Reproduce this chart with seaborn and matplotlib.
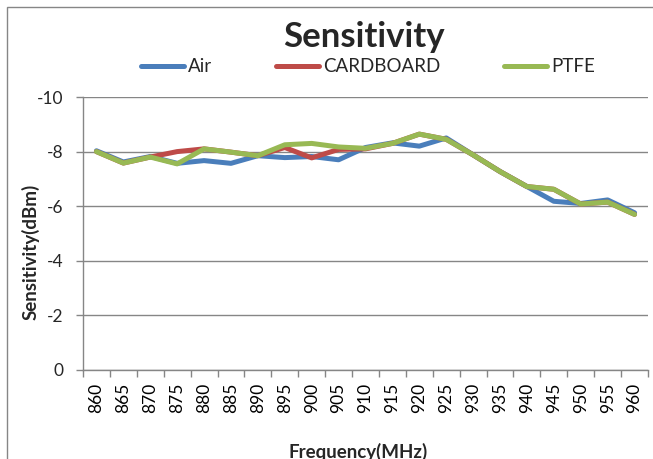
import matplotlib
matplotlib.use("Agg")
import matplotlib.pyplot as plt
from matplotlib.patches import Rectangle
from matplotlib.ticker import FixedLocator
import seaborn as sns
import pandas as pd

# ---- data ----
frequencies = ["860", "865", "870", "875", "880", "885", "890", "895", "900", "905",
               "910", "915", "920", "925", "930", "935", "940", "945", "950", "955", "960"]
air = [-8.03, -7.62, -7.82, -7.57, -7.67, -7.57, -7.85, -7.78, -7.82, -7.70,
       -8.15, -8.32, -8.20, -8.50, -7.88, -7.27, -6.72, -6.18, -6.10, -6.23, -5.76]
cardboard = [-8.00, -7.58, -7.80, -8.00, -8.10, -7.98, -7.85, -8.15, -7.77, -8.08,
             -8.10, -8.30, -8.64, -8.45, -7.88, -7.27, -6.72, -6.62, -6.08, -6.15, -5.70]
ptfe = [-8.00, -7.58, -7.80, -7.55, -8.10, -7.98, -7.85, -8.25, -8.30, -8.17,
        -8.12, -8.30, -8.64, -8.45, -7.88, -7.27, -6.72, -6.62, -6.08, -6.15, -5.70]
y_ticks = [0, -2, -4, -6, -8, -10]
series_names = ["Air", "CARDBOARD", "PTFE"]
series_colors = ["#4A7EBB", "#BE4B48", "#98B954"]

df = pd.concat([
    pd.DataFrame({"Frequency": frequencies, "Sensitivity": vals, "Material": name})
    for name, vals in zip(series_names, [air, cardboard, ptfe])
], ignore_index=True)

sns.set_style("white")
plt.rcParams["font.family"] = ["Lato", "DejaVu Sans"]
plt.rcParams["axes.unicode_minus"] = False

W, H = 653, 459
fig = plt.figure(figsize=(W / 100, H / 100), dpi=100)
L, R, T, B = 83, 648, 97, 370
ax = fig.add_axes([L / W, 1 - B / H, (R - L) / W, (B - T) / H])

sns.lineplot(data=df, x="Frequency", y="Sensitivity", hue="Material",
             palette=dict(zip(series_names, series_colors)), sort=False,
             linewidth=3.6, ax=ax, legend=False)

grey = "#868686"
ax.set_xlim(-0.5, len(frequencies) - 0.5)
ax.set_ylim(0, -10)
ax.yaxis.set_major_locator(FixedLocator(y_ticks))
ax.yaxis.grid(True, color=grey, linewidth=1.0)
ax.xaxis.grid(False)
for s in ["top", "right"]:
    ax.spines[s].set_visible(False)
for s in ["left", "bottom"]:
    ax.spines[s].set_color(grey)
    ax.spines[s].set_linewidth(1.0)

ax.set_xticks(range(len(frequencies)))
ax.set_xticklabels(frequencies, rotation=90)
ax.xaxis.set_minor_locator(FixedLocator([i - 0.5 for i in range(len(frequencies) + 1)]))
ax.tick_params(axis="x", which="major", length=0, pad=9, labelsize=12.5, colors="black")
ax.tick_params(axis="x", which="minor", length=5, width=1, color=grey, bottom=True)
ax.tick_params(axis="y", which="major", length=5, width=1, color=grey, pad=9,
               labelsize=12.5, left=True)

ax.set_xlabel("Frequency(MHz)", fontsize=13.5, fontweight="bold")
ax.xaxis.set_label_coords((358 - L) / (R - L), (B - 443) / (B - T))
ax.xaxis.label.set_va("top")
ax.set_ylabel("Sensitivity(dBm)", fontsize=13.5, fontweight="bold")
ax.yaxis.set_label_coords((30 - L) / (R - L), (B - 252) / (B - T))
ax.yaxis.label.set_va("center")

# title
fig.text(364 / W, 1 - 47 / H, "Sensitivity", ha="center", va="baseline",
         fontsize=25, fontweight="bold")

# legend
handles = [plt.Line2D([], [], color=c, linewidth=3.6, solid_capstyle="round")
           for c in series_colors]
fig.legend(handles, series_names, loc="center", bbox_to_anchor=(368 / W, 1 - 67 / H),
           ncol=3, frameon=False, fontsize=13.5, handlelength=2.3,
           handletextpad=0.2, columnspacing=3.4, borderpad=0)

# outer chart border (left and top edges visible)
fig.patches.append(Rectangle((7 / W, -0.5), 3, 1.5 - 7 / H, transform=fig.transFigure,
                             fill=False, edgecolor=grey, linewidth=1.0))

fig.savefig("out.png", dpi=100)
